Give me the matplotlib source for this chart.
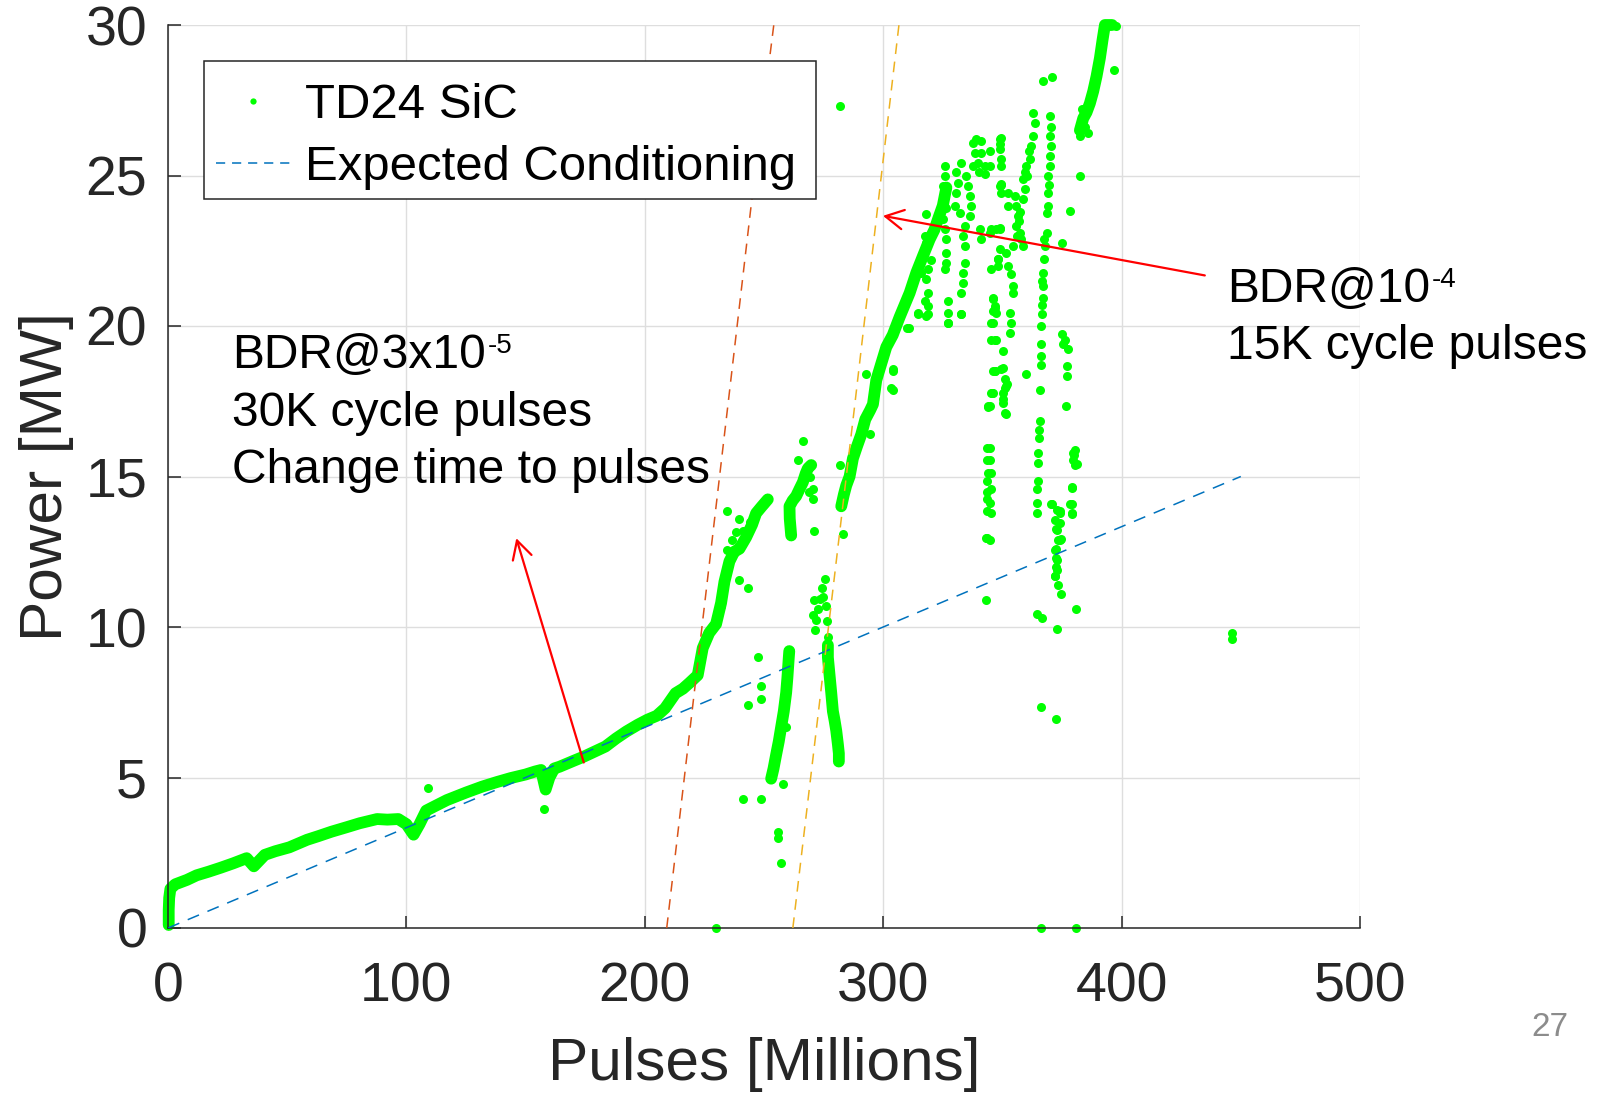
import matplotlib
matplotlib.use("Agg")
import matplotlib.pyplot as plt
from matplotlib.lines import Line2D
from matplotlib.patches import Rectangle

plt.rcParams["font.family"] = ["Liberation Sans", "DejaVu Sans"]

GREEN = "#00FF00"
INK = "#262626"

# ---------------- data (pulses in millions, power in MW) ----------------
# dense runs of the TD24 SiC record, drawn as continuous bands
run1_x = [0.3, 0.3, 0.5, 1.0, 3.0, 8.0, 12.0, 17.0, 22.0, 27.4, 33.0, 36.0, 40.6, 45.0,
          50.9, 58.3, 63.0, 68.6, 75.0, 80.4, 87.7, 92.0, 96.6, 100.0, 103.0, 105.5,
          108.3, 112.0, 117.0, 125.0, 131.9, 138.0, 143.7, 150.0, 154.0, 156.5, 158.4,
          160.0, 162.0, 164.3, 170.0, 174.6, 180.0, 183.5, 188.0, 192.3, 197.0, 201.1,
          205.0, 208.5, 212.9, 216.0, 218.7, 222.2, 224.3, 227.0, 229.9, 232.0, 233.4,
          235.5, 237.5, 239.7, 242.5, 245.0, 246.7, 249.0, 251.6]
run1_y = [0.1, 0.6, 1.0, 1.3, 1.45, 1.6, 1.75, 1.87, 2.0, 2.15, 2.32, 2.05, 2.43, 2.55,
          2.68, 2.93, 3.05, 3.2, 3.35, 3.48, 3.62, 3.6, 3.62, 3.45, 3.1, 3.45,
          3.9, 4.05, 4.25, 4.5, 4.7, 4.85, 4.98, 5.1, 5.2, 5.25, 4.6,
          5.0, 5.3, 5.36, 5.55, 5.7, 5.9, 6.03, 6.3, 6.53, 6.75, 6.92,
          7.05, 7.3, 7.8, 7.95, 8.14, 8.4, 9.3, 9.8, 10.1, 10.8, 11.5,
          12.18, 12.5, 12.6, 12.98, 13.4, 13.78, 14.0, 14.24]

run2_x = [260.6, 260.4, 259.8, 259.3, 258.3, 257.2, 256.2, 255.1, 254.0, 253.0]
run2_y = [9.2, 8.99, 8.3, 7.82, 7.2, 6.68, 6.2, 5.76, 5.3, 4.96]

run3_x = [261.4, 260.8, 260.7, 262.0, 263.5, 265.0, 266.3, 267.5, 268.4, 269.8]
run3_y = [13.04, 13.6, 14.01, 14.2, 14.35, 14.6, 14.81, 15.1, 15.27, 15.38]

run4_x = [276.8, 276.8, 277.5, 278.2, 278.9, 279.6, 280.3, 281.0, 281.4, 281.4]
run4_y = [9.4, 8.99, 8.4, 7.82, 7.2, 6.9, 6.56, 6.1, 5.8, 5.53]

run5_x = [282.4, 283.5, 284.5, 285.9, 287.3, 289.0, 290.8, 292.5, 294.5, 295.7, 297.1,
          299.0, 301.3, 304.0, 306.9, 309.0, 311.1, 313.9, 316.7, 319.5, 321.5, 323.0,
          325.0, 326.5]
run5_y = [14.01, 14.4, 14.7, 15.0, 15.6, 16.0, 16.4, 16.9, 17.2, 17.4, 18.2,
          18.7, 19.3, 19.7, 20.3, 20.7, 21.1, 21.77, 22.33, 22.88, 23.2, 23.55,
          24.0, 24.6]

run6_x = [382.5, 383.9, 385.3, 386.7, 388.1, 389.5, 390.9, 392.0, 393.0, 394.5, 396.0]
run6_y = [26.5, 26.9, 27.1, 27.4, 27.8, 28.3, 28.9, 29.5, 30.0, 30.0, 30.0]

# isolated TD24 SiC samples below 16 MW
low_x = [108.9, 157.7, 247.4, 248.8, 248.8, 243.2, 241.1, 248.8, 255.8, 255.8, 257.2,
         229.9, 257.9, 259.3, 234.4, 239.7, 238.3, 234.4, 239.7, 243.2, 232.0, 236.5,
         241.0, 244.0, 247.5, 250.0, 264.2, 266.3, 270.5, 270.5, 270.8, 269.2, 268.8,
         270.5, 271.0, 271.9, 272.5, 273.3, 274.2, 275.4, 274.8, 276.1, 276.5, 276.8,
         271.2, 281.7, 283.3, 294.3, 343.5, 343.3, 364.5, 366.6, 366.3, 366.1, 370.5,
         374.0, 372.6, 374.7, 372.6, 372.6, 372.0, 374.7, 372.9, 372.4, 372.4, 373.5,
         379.7, 381.1, 379.3, 379.3, 379.3, 381.0, 380.8, 446.4, 446.4, 344.7, 344.7,
         345.4, 345.4, 344.7, 345.4, 344.7, 343.4, 343.6, 343.8, 343.6, 343.6, 343.6,
         343.4, 343.3, 365.0, 365.0, 365.0, 364.7, 364.7, 364.7, 380.4, 379.7, 380.4,
         379.0, 378.3, 379.0, 380.0, 370.6, 372.7, 374.1, 372.0, 374.1, 372.7, 373.4,
         374.1, 372.0, 372.7, 372.7, 372.0]
low_y = [4.65, 3.95, 8.99, 8.05, 7.6, 7.42, 4.28, 4.28, 3.19, 3.0, 2.16,
         0.0, 4.79, 6.68, 13.84, 13.6, 13.15, 12.56, 11.55, 11.3, 10.69, 12.9,
         13.2, 13.5, 13.9, 14.1, 15.55, 16.18, 14.58, 14.24, 13.2, 15.0, 14.5,
         10.4, 10.9, 10.23, 10.6, 10.92, 11.3, 11.6, 11.0, 10.69, 10.2, 9.66,
         9.9, 15.38, 13.09, 16.4, 12.95, 10.91, 10.44, 10.31, 7.35, 0.0, 14.07,
         13.87, 13.24, 12.92, 12.6, 12.3, 11.7, 11.1, 9.93, 6.94, 12.0, 11.4,
         15.78, 15.4, 14.64, 14.07, 13.75, 10.59, 0.0, 9.8, 9.6, 15.95, 15.56,
         15.12, 14.57, 14.12, 13.79, 12.9, 15.95, 15.56, 15.12, 14.85, 14.5, 14.24,
         13.84, 12.96, 15.78, 15.45, 14.85, 14.57, 14.12, 13.79, 15.89, 15.56, 15.39,
         14.62, 14.07, 13.79, 15.7, 14.07, 13.9, 13.79, 13.56, 13.45, 13.23, 12.9,
         12.9, 12.57, 12.24, 11.9, 11.68]

# isolated TD24 SiC samples above 16 MW
high_x = [281.7, 292.9, 304.1, 304.1, 303.4, 304.0, 311.0, 314.5, 318.7, 327.1, 332.7,
          318.1, 317.4, 318.1, 316.7, 316.0, 318.1, 318.8, 317.4, 318.8, 314.6, 318.1,
          310.1, 320.2, 319.0,
          325.8, 325.8, 325.1, 325.8, 326.5, 325.1, 325.8, 326.5, 326.5, 326.5, 325.8,
          327.2, 327.2, 327.2, 330.7, 331.4, 330.7, 330.0, 332.1,
          332.8, 334.9, 335.6, 336.3, 337.0, 336.3, 334.2, 333.5, 334.2, 334.2, 333.5,
          333.5, 332.8, 332.8, 337.6, 341.1, 338.3, 341.1, 339.7, 342.5, 337.6, 342.5,
          339.0, 340.0, 340.4, 341.1, 345.3, 348.9, 348.9, 348.2, 345.3, 346.1, 346.8,
          346.1, 345.3, 347.5, 349.6, 348.9, 349.6, 349.6,
          367.1, 370.6, 362.9, 363.6, 362.9, 362.2, 361.5, 360.1, 359.4, 358.7, 359.4,
          361.0, 360.5, 369.9, 369.9, 370.2, 369.9, 369.9, 369.2, 369.2, 369.2, 368.8,
          370.2, 369.5, 368.5, 367.8, 367.4, 367.1, 367.1, 367.1, 366.7, 366.4, 366.4,
          366.1, 366.0, 365.7, 365.7, 365.4, 365.4, 367.5, 366.8, 366.5,
          355.2, 355.9, 356.6, 355.9, 357.3, 358.0, 358.7, 358.7, 352.4, 348.9, 349.6,
          352.4, 357.0, 356.0, 357.5, 348.9, 348.9, 349.6, 349.6, 344.7, 344.7,
          378.3, 374.8, 348.9, 347.5, 344.7, 354.5, 351.7, 348.2, 348.2, 352.4, 353.8,
          354.5, 354.5, 346.1, 346.8, 347.5, 346.1, 353.1, 353.8, 353.1, 346.8, 350.3,
          346.8, 349.6, 351.0, 351.7, 350.3, 346.1, 350.3, 351.0, 344.7, 360.1,
          374.8, 376.2, 377.6, 376.9, 376.9, 376.6, 375.5, 345.4, 346.1, 345.4, 344.0,
          382.7, 384.5, 385.9, 383.5, 382.5, 397.0, 397.7, 346.9, 350.4, 351.8, 351.1,
          345.5, 344.1, 350.4, 351.5]
high_y = [27.3, 18.4, 18.49, 17.88, 17.95, 18.56, 19.94, 20.39, 20.39, 20.11, 20.39,
          23.71, 22.99, 22.77, 22.44, 21.77, 21.55, 21.11, 20.83, 20.67, 20.44, 20.33,
          19.94, 22.2, 21.9,
          25.32, 24.98, 24.65, 24.32, 23.93, 23.55, 23.21, 22.88, 22.44, 22.1, 21.88,
          20.83, 20.44, 20.11, 25.1, 24.76, 24.43, 23.99, 23.77,
          25.43, 24.98, 24.65, 24.32, 23.99, 23.66, 23.32, 22.99, 22.66, 22.1, 21.77,
          21.44, 21.11, 20.39, 26.09, 26.15, 25.76, 25.76, 25.43, 25.32, 25.32, 25.04,
          26.2, 25.1, 23.21, 22.88, 23.21, 23.21, 22.55, 22.21, 21.88, 20.94, 20.67,
          20.5, 20.11, 19.55, 26.26, 26.04, 24.71, 24.43,
          28.15, 28.26, 27.09, 26.76, 26.31, 25.98, 25.54, 25.32, 25.1, 24.87, 24.54,
          25.8, 25.0, 26.98, 26.31, 25.98, 25.65, 25.32, 24.98, 24.43, 23.99, 23.77,
          26.6, 24.7, 23.1, 22.66, 22.21, 21.77, 21.33, 20.94, 20.39, 20.0, 19.39,
          19.0, 18.72, 17.89, 16.84, 16.56, 16.28, 22.9, 21.5, 20.7,
          24.32, 23.99, 23.66, 23.32, 23.1, 22.88, 22.66, 24.21, 23.99, 24.65, 24.7,
          24.43, 23.5, 23.0, 23.8, 26.2, 25.87, 25.54, 25.32, 25.8, 25.3,
          23.82, 22.77, 23.27, 23.21, 23.1, 22.66, 22.44, 22.21, 21.99, 21.99, 21.72,
          21.33, 21.11, 20.89, 20.61, 20.44, 20.11, 20.44, 20.11, 19.78, 19.55, 19.17,
          18.5, 18.56, 18.23, 18.0, 17.78, 17.78, 17.45, 17.12, 17.34, 18.39,
          19.72, 19.55, 19.22, 18.67, 18.34, 17.34, 19.4, 19.55, 18.5, 17.78, 17.34,
          26.3, 26.6, 26.4, 27.2, 24.98, 28.5, 29.97, 18.52, 18.59, 18.08, 17.95,
          17.76, 17.31, 17.57, 17.06]

# expected conditioning and BDR guide curves
expected_x = [0.0, 450.0]
expected_y = [0.0, 15.0]
bdr_3e5_x = [209.2, 234.8, 244.6, 254.1]
bdr_3e5_y = [0.0, 17.33, 24.0, 30.0]
bdr_1e4_x = [262.1, 288.0, 297.6, 306.6]
bdr_1e4_y = [0.0, 17.33, 23.9, 30.0]

x_ticks = [0, 100, 200, 300, 400, 500]
y_ticks = [0, 5, 10, 15, 20, 25, 30]

# ---------------- figure ----------------
W, H = 1599, 1094
fig = plt.figure(figsize=(W / 100, H / 100), dpi=100)
ax = fig.add_axes([168 / W, 1 - 928 / H, 1192 / W, 903 / H])
ax.set_xlim(0, 500)
ax.set_ylim(0, 30)
ax.set_xticks(x_ticks)
ax.set_yticks(y_ticks)

for s in ("top", "right"):
    ax.spines[s].set_visible(False)
for s in ("left", "bottom"):
    ax.spines[s].set_color(INK)
    ax.spines[s].set_linewidth(1.1)
ax.tick_params(direction="in", length=9, width=1.1, color=INK, labelsize=40,
               labelcolor=INK, top=False, right=False)
ax.tick_params(axis="x", pad=24)
ax.tick_params(axis="y", pad=15)
ax.grid(True, color="#DEDEDE", lw=1.0)
ax.set_axisbelow(True)

# data bands and points
for rx, ry in ((run1_x, run1_y), (run2_x, run2_y), (run3_x, run3_y),
               (run4_x, run4_y), (run5_x, run5_y), (run6_x, run6_y)):
    ax.plot(rx, ry, color=GREEN, lw=8.5, solid_capstyle="round",
            solid_joinstyle="round", clip_on=False, zorder=2)
for px, py in ((low_x, low_y), (high_x, high_y)):
    ax.plot(px, py, "o", ms=6.5, mew=0, color=GREEN, clip_on=False, zorder=2)

ax.plot(expected_x, expected_y, color="#0072BD", lw=1.1, dashes=(8, 6), zorder=3)
ax.plot(bdr_3e5_x, bdr_3e5_y, color="#D95319", lw=1.1, dashes=(7, 5), zorder=3)
ax.plot(bdr_1e4_x, bdr_1e4_y, color="#EDB120", lw=1.1, dashes=(7, 5), zorder=3)

arrow = dict(arrowstyle="->,head_length=0.65,head_width=0.35", color="red", lw=1.6,
             shrinkA=0, shrinkB=0, mutation_scale=20)
ax.annotate("", xy=(146.1, 12.95), xytext=(174.4, 5.5), arrowprops=arrow, zorder=4)
ax.annotate("", xy=(299.9, 23.66), xytext=(434.9, 21.68), arrowprops=arrow, zorder=4)

# annotation texts
TXT = 34.6
t1 = ax.text(26.7, 18.59, "BDR@3x10", fontsize=TXT, va="baseline", ha="left")
ax.annotate("-5", xy=(1, 0), xycoords=t1, xytext=(1.5, 18.5), textcoords="offset points",
            fontsize=20, va="baseline", ha="left")
ax.text(26.7, 16.69, "30K cycle pulses", fontsize=TXT, va="baseline", ha="left")
ax.text(26.7, 14.79, "Change time to pulses", fontsize=TXT, va="baseline", ha="left")

t2 = ax.text(444.1, 20.79, "BDR@10", fontsize=TXT, va="baseline", ha="left")
ax.annotate("-4", xy=(1, 0), xycoords=t2, xytext=(1.5, 18.0), textcoords="offset points",
            fontsize=20, va="baseline", ha="left")
ax.text(444.1, 18.92, "15K cycle pulses", fontsize=TXT, va="baseline", ha="left")

# axis labels
ax.set_xlabel("Pulses [Millions]", fontsize=43.5, color=INK)
ax.set_ylabel("Power [MW]", fontsize=43.5, color=INK)
ax.xaxis.set_label_coords(0.5, -0.1207)
ax.yaxis.set_label_coords(-0.0789, 0.5)

# legend: box drawn separately so the entries can sit low inside it
ax.add_patch(Rectangle((204 / W, 1 - 199 / H), (816 - 204) / W, (199 - 61) / H,
                       transform=fig.transFigure, facecolor="white", edgecolor=INK,
                       lw=1.1, zorder=4.5, clip_on=False))
handles = [
    Line2D([], [], marker="o", ls="none", color=GREEN, ms=4.5, mew=0),
    Line2D([], [], color="#0072BD", lw=1.1, dashes=(6, 4.5)),
]
leg = ax.legend(handles, ["TD24 SiC", "Expected Conditioning"], loc="upper left",
                bbox_to_anchor=((204 - 168) / 1192, (928 - 71) / 903), borderaxespad=0,
                fontsize=35.4, frameon=False, handlelength=1.5, handletextpad=0.3,
                borderpad=0.25, labelspacing=0.35)
leg.set_zorder(5)

fig.text(1550 / W, 1 - 1027 / H, "27", fontsize=24, color="#8C8C8C",
         ha="center", va="center")

fig.savefig("out.png", dpi=100)
